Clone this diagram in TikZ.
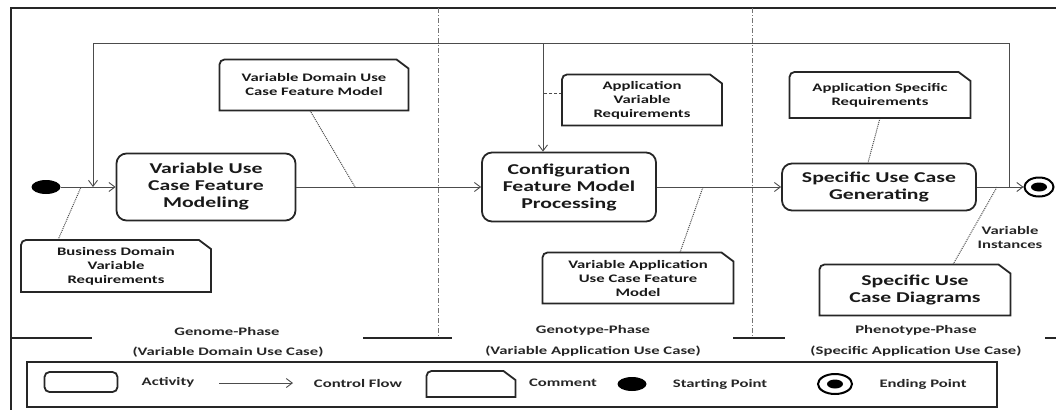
\documentclass[tikz,border=0pt]{standalone}
\usepackage{fontspec}
\usepackage{tikz}
\usetikzlibrary{arrows.meta,shapes.geometric}
\newfontfamily\diafont[FakeStretch=1.45]{Carlito}
\newcommand{\boxfont}{\diafont\bfseries\fontsize{15}{17}\selectfont}
\newcommand{\notefont}{\diafont\bfseries\fontsize{11.5}{14}\selectfont}

\begin{document}
\begin{tikzpicture}[x=1pt,y=-1pt,line width=1pt,
  activity/.style={draw=black!85, line width=1.8pt, rounded corners=10pt,
    align=center, font=\boxfont, text=black!90, inner sep=0pt},
  comment/.style={align=center, font=\notefont, text=black!90, inner sep=0pt},
  notebox/.style={draw=black!85, line width=1.8pt},
  startpt/.style={ellipse, fill=black, minimum width=29pt, minimum height=14pt, inner sep=0pt},
  endpt/.style={ellipse, draw=black, line width=2pt, minimum width=29pt, minimum height=19pt,
    inner sep=0pt, path picture={\fill (path picture bounding box.center)
      ellipse [x radius=8pt, y radius=4.5pt];}},
  wire/.style={draw=black!70, line width=0.9pt},
  flow/.style={wire, -{Straight Barb[length=6pt,width=9pt]}},
  link/.style={draw=black!70, line width=1pt, densely dotted},
  dashlink/.style={draw=black!70, line width=1pt, densely dashed},
  lane/.style={draw=black!55, line width=1pt, dash pattern=on 5pt off 2pt on 1pt off 2pt},
  bar/.style={draw=black!85, line width=2pt},
  phase/.style={font=\notefont, text=black!85, align=center, inner sep=0pt}]

  \useasboundingbox (0,0) rectangle (1056,410);

  % frame and swimlanes
  \draw[bar] (1056,8) -- (11,8) -- (11,410);
  \draw[lane] (438,8) -- (438,338);
  \draw[lane] (752,8) -- (752,338);
  \foreach \a/\b in {11/92, 363/452, 733/785, 1045/1056}
    \draw[bar] (\a,338) -- (\b,338);

  % activities
  \node[startpt] (start) at (46,187) {};
  \node[activity, minimum width=179pt, minimum height=67pt] (a1) at (206,187)
    {Variable Use\\Case Feature\\Modeling};
  \node[activity, minimum width=174pt, minimum height=69pt] (a2) at (569,187)
    {Configuration\\Feature Model\\Processing};
  \node[activity, minimum width=194pt, minimum height=47pt] (a3) at (879,187)
    {Specific Use Case\\Generating};
  \node[endpt] (end) at (1039,187) {};

  % control flow
  \draw[flow] (start) -- (a1);
  \draw[flow] (a1) -- (a2);
  \draw[flow] (a2) -- (a3);
  \draw[flow] (a3) -- (end);

  % feedback loop
  \coordinate (fbR) at (1009,187);
  \coordinate (fbL) at (93,187);
  \coordinate (loopR) at (1009,43);
  \coordinate (loopL) at (93,43);
  \coordinate (k2) at (543,93);
  \draw[wire] (fbR) -- (loopR) -- (loopL);
  \draw[flow] (loopL) -- (fbL);
  \draw[flow] (loopL -| k2) -- (k2 |- a2.north);

  % comments
  \node[comment, minimum width=188pt, minimum height=50pt] (c1) at (314,85)
    {Variable Domain Use\\Case Feature Model};
  \node[comment, minimum width=159pt, minimum height=50pt] (c2) at (642,100)
    {Application\\Variable\\Requirements};
  \node[comment, minimum width=180pt, minimum height=45pt] (c3) at (880,95)
    {Application Specific\\Requirements};
  \node[comment, minimum width=189pt, minimum height=51pt] (c4) at (116,266)
    {Business Domain\\Variable\\Requirements};
  \node[comment, minimum width=190pt, minimum height=50pt] (c5) at (638,278)
    {Variable Application\\Use Case Feature\\Model};
  \node[comment, font=\boxfont, minimum width=190pt, minimum height=50pt] (c6) at (915,290)
    {Specific Use\\Case Diagrams};
  \node[phase] (vi) at (1010,238) {Variable\\Instances};

  % comment links
  \coordinate (k1) at (355,187);
  \coordinate (k4) at (81,187);
  \coordinate (k5) at (703,187);
  \coordinate (k6) at (997,187);
  \draw[link] ([xshift=-4pt]c1.south) -- (k1);
  \draw[dashlink] (k2 -| c2.west) -- (k2);
  \draw[link] (c3.south) -- ([xshift=-11pt]a3.north);
  \draw[link] ([xshift=-58pt]c4.north) -- (k4);
  \draw[link] ([xshift=42pt]c5.north) -- (k5);
  \draw[link] ([xshift=38pt]c6.north) -- (k6);

  % phases
  \node[phase] (p1) at (227,331) {Genome-Phase};
  \node[phase] (p1b) at (228,352) {(Variable Domain Use Case)};
  \node[phase] (p2) at (593,330) {Genotype-Phase};
  \node[phase] (p2b) at (593,351) {(Variable Application Use Case)};
  \node[phase] (p3) at (916,330) {Phenotype-Phase};
  \node[phase] (p3b) at (916,351) {(Specific Application Use Case)};

  % legend
  \draw[bar, line width=1.8pt] (27,362) rectangle (997,407);
  \node[activity, rounded corners=5pt, minimum width=73pt, minimum height=20pt] (lgAct) at (81,382) {};
  \node[phase] (lgActTxt) at (168,382) {Activity};
  \coordinate (lgA) at (219,383);
  \coordinate (lgB) at (293,383);
  \draw[flow] (lgA) -- (lgB);
  \node[phase] (lgFlowTxt) at (358,383) {Control Flow};
  \node[comment, minimum width=88pt, minimum height=25pt] (lgCom) at (471,384) {};
  \node[phase] (lgComTxt) at (563,383) {Comment};
  \node[startpt] (lgStart) at (632,384) {};
  \node[phase] (lgStartTxt) at (720,384) {Starting Point};
  \node[endpt, minimum width=34pt, minimum height=20pt] (lgEnd) at (835,384) {};
  \node[phase] (lgEndTxt) at (923,384) {Ending Point};

  % note outlines
  \foreach \c in {c1,c2,c3,c4,c5,c6,lgCom}
    \draw[notebox] (\c.south west) -- ([yshift=-5pt]\c.north west)
      to[out=90,in=180] ([xshift=5pt]\c.north west)
      -- ([xshift=-12pt]\c.north east) -- ([yshift=-9pt]\c.north east)
      -- (\c.south east) -- cycle;
\end{tikzpicture}
\end{document}
